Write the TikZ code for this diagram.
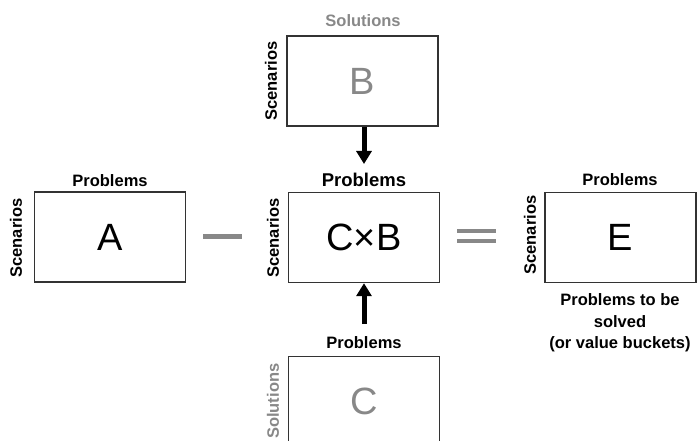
\documentclass[tikz,border=0pt]{standalone}
\usepackage{fontspec}
\setmainfont{Liberation Sans}
\usetikzlibrary{arrows.meta}
\definecolor{boxc}{HTML}{333333}
\definecolor{lightg}{HTML}{888888}
\tikzset{
  mat/.style={draw=boxc, line width=1.4pt, minimum width=151pt, minimum height=90pt, inner sep=0pt, font=\fontsize{38}{40}\selectfont},
  lbl/.style={font=\bfseries\fontsize{16.5}{18}\selectfont, inner sep=0pt},
  side/.style={lbl, rotate=90},
  op/.style={fill=lightg, inner sep=0pt, minimum width=39pt, minimum height=5pt},
  bigarrow/.style={line width=5pt, -{Triangle[width=15pt,length=13pt]}}
}
\begin{document}
\begin{tikzpicture}[x=1pt,y=-1pt]
\useasboundingbox (0,0) rectangle (697,441);
% boxes
\node[mat, text=lightg] (B) at (362.5,81) {B};
\node[mat] (A) at (110,237) {A};
\node[mat] (CB) at (364,237.5) {C×B};
\node[mat] (E) at (620.5,237.5) {E};
\node[mat, text=lightg] (C) at (364,401.5) {C};
% labels
\node[lbl, text=lightg] (solB) at (363,21) {Solutions};
\node[side] (scB) at (271,81) {Scenarios};
\node[lbl] (pA) at (110,181) {Problems};
\node[side] (scA) at (16,238) {Scenarios};
\node[lbl, font=\bfseries\fontsize{18.5}{20}\selectfont] (pCB) at (364,180) {Problems};
\node[side] (scCB) at (273,238) {Scenarios};
\node[lbl] (pE) at (620,180) {Problems};
\node[side] (scE) at (530,235) {Scenarios};
\node[lbl, align=center, font=\bfseries\fontsize{16.5}{21.5}\selectfont] (note) at (620,323) {Problems to be\\solved\\(or value buckets)};
\node[lbl] (pC) at (364,343) {Problems};
\node[side, text=lightg, anchor=west] (solC) at (273,439) {Solutions};
% operators
\node[op] (minus) at (222.5,236.5) {};
\node[op, minimum height=4pt] (eq1) at (476.5,231.5) {};
\node[op, minimum height=4pt] (eq2) at (476.5,241) {};
% arrows
\coordinate (tipB) at (364,164);
\draw[bigarrow] (B.south -| tipB) -- (tipB);
\coordinate (startC) at (364,324);
\draw[bigarrow] (startC) -- (CB.south -| startC);
\end{tikzpicture}
\end{document}
